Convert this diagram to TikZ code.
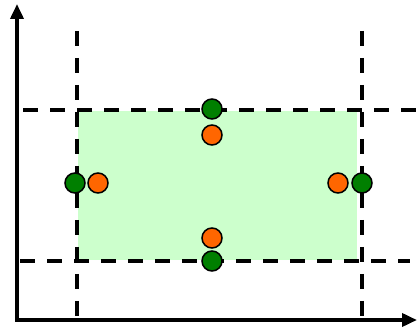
\documentclass[tikz,border=0pt]{standalone}
\usetikzlibrary{arrows.meta}
\definecolor{rectfill}{HTML}{CCFFCC}
\definecolor{dgreen}{HTML}{007F00}
\definecolor{dorange}{HTML}{FF6600}
\begin{document}
\begin{tikzpicture}[x=1pt,y=-1pt,
  dline/.style={line width=3.5pt,dash pattern=on 15pt off 12pt},
  axis/.style={line width=3.6pt,-{Triangle[length=15pt,width=13pt]}},
  gdot/.style={circle,draw=black,line width=1.5pt,fill=dgreen,minimum size=20pt,inner sep=0pt},
  odot/.style={circle,draw=black,line width=1.5pt,fill=dorange,minimum size=20pt,inner sep=0pt}]
\useasboundingbox (0,0) rectangle (418,328);
\fill[rectfill] (78,111) rectangle (357,260);
% dashed lines
\coordinate (v1t) at (77,31); \coordinate (v1b) at (77,322);
\coordinate (v2t) at (362,31); \coordinate (v2b) at (362,322);
\coordinate (h1l) at (23,110); \coordinate (h1r) at (418,110);
\coordinate (h2l) at (20,261); \coordinate (h2r) at (410,261);
\draw[dline] (v1t) -- (v1b);
\draw[dline] (v2t) -- (v2b);
\draw[dline] (h1l) -- (h1r);
\draw[dline] (h2l) -- (h2r);
% axes
\coordinate (o) at (17,320);
\coordinate (ytip) at (17,4);
\coordinate (xtip) at (417,320);
\draw[axis] (o) -- (ytip);
\draw[axis] ([xshift=-1.8pt]o) -- (xtip);
% dots
\node[gdot] (gt) at (212,109) {};
\node[odot] (ot) at (212,135) {};
\node[gdot] (gl) at (75,183) {};
\node[odot] (ol) at (98,183) {};
\node[odot] (or) at (338,183) {};
\node[gdot] (gr) at (362,183) {};
\node[odot] (ob) at (212,238) {};
\node[gdot] (gb) at (212,261) {};
\end{tikzpicture}
\end{document}
